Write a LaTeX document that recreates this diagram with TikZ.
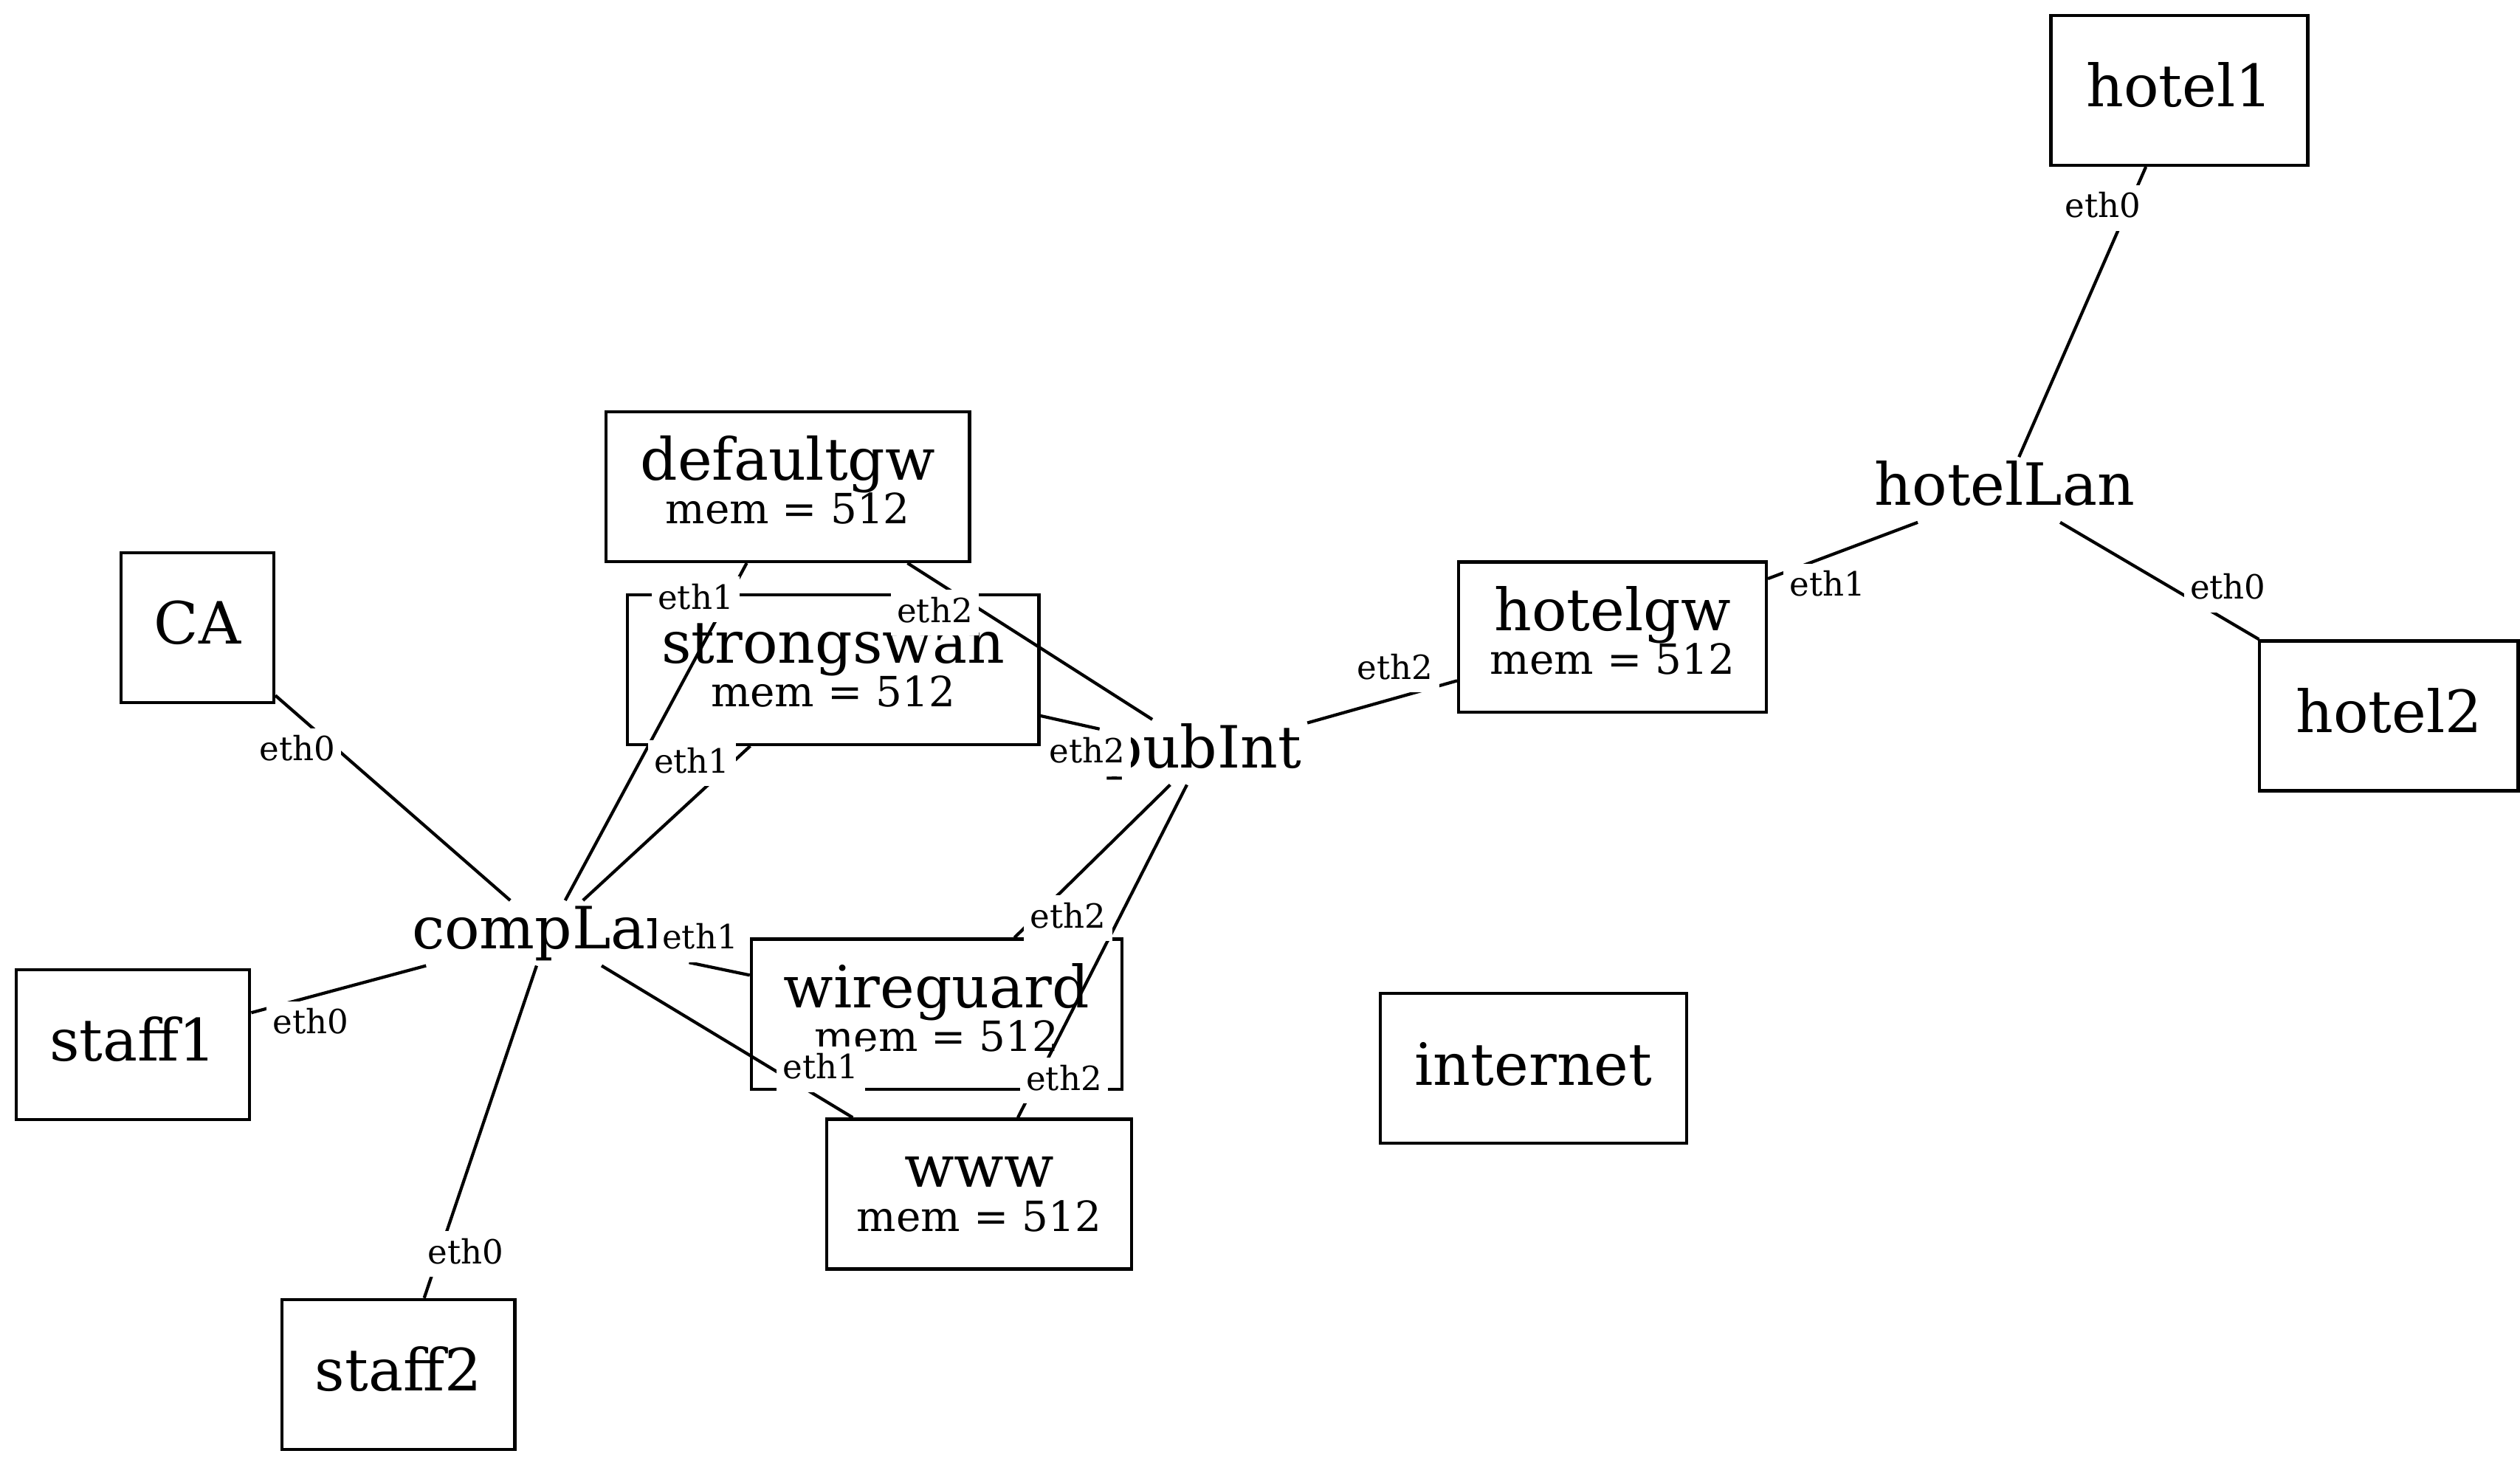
\documentclass[tikz,border=0pt]{standalone}
\usepackage{fontspec}
\setmainfont{DejaVu Serif}

\newcommand{\memline}{{\fontsize{10}{10.54}\selectfont mem = 512}}

\tikzset{
    every node/.style={inner sep=0pt},
    host/.style={
        draw, rectangle,
        line width=0.75pt,
        minimum height=36pt,
        text height=11pt, text depth=3pt,
        font={\fontsize{14}{10.54}\selectfont\lineskiplimit=-20pt}
    },
    vm/.style={host, align=center, text height=19.9pt, text depth=2pt},
    lan/.style={
        rectangle, inner xsep=1.2pt,
        minimum height=15.3pt,
        text height=10.9pt, text depth=3.5pt,
        font=\fontsize{14}{16}\selectfont
    },
    eth/.style={
        fill=white, inner xsep=1.5pt, anchor=base,
        text height=7.8pt, text depth=3.2pt,
        font=\fontsize{8}{9.6}\selectfont
    },
    link/.style={line width=0.75pt}
}

\begin{document}
\begin{tikzpicture}[x=0.38803pt, y=-0.38803pt]
\useasboundingbox (0,0) rectangle (1560,905.2);

% hosts
\node[host, minimum width=61.7pt] (hotel1) at (1349.1,55.9) {hotel1};
\node[vm, minimum width=87.3pt] (defaultgw) at (487.7,301.3) {defaultgw\\\memline};
\node[host, minimum width=36.7pt] (CA) at (122.2,388.5) {CA};
\node[vm, minimum width=98.9pt] (strongswan) at (515.7,414.6) {strongswan\\\memline};
\node[vm, minimum width=73.9pt] (hotelgw) at (998.2,394.4) {hotelgw\\\memline};
\node[host, minimum width=62.1pt] (hotel2) at (1478.8,443.2) {hotel2};
\node[host, minimum width=56.1pt] (staff1) at (82.3,646.7) {staff1};
\node[vm, minimum width=89pt] (wireguard) at (579.8,627.9) {wireguard\\\memline};
\node[host, minimum width=73.6pt] (internet) at (949.3,661.4) {internet};
\node[vm, minimum width=73.3pt] (www) at (606.1,739.3) {www\\\memline};
\node[host, minimum width=56pt] (staff2) at (246.6,851) {staff2};

% lans
\node[lan] (compLan) at (339,577.7) {compLan};
\node[lan] (pubInt) at (745,465.7) {pubInt};
\node[lan] (hotelLan) at (1241,303.2) {hotelLan};

% links
\foreach \a/\b in {CA/compLan, staff1/compLan, staff2/compLan,
    defaultgw/compLan, strongswan/compLan, wireguard/compLan, www/compLan,
    defaultgw/pubInt, strongswan/pubInt, wireguard/pubInt, www/pubInt,
    hotelgw/pubInt, hotelgw/hotelLan, hotel1/hotelLan, hotel2/hotelLan}
    \draw[link] (\a) -- (\b);

% interface labels
\foreach \n/\x/\y/\t in {CA-eth0/184/471.1/eth0, staff1-eth0/192.3/640.1/eth0,
    staff2-eth0/288.2/782.3/eth0, defaultgw-eth1/430.7/377.1/eth1,
    strongswan-eth1/428.3/478.6/eth1, wireguard-eth1/433.4/587.4/eth1,
    www-eth1/508.1/668/eth1, defaultgw-eth2/578.7/385.3/eth2,
    strongswan-eth2/672.9/472.4/eth2, wireguard-eth2/661.2/574.4/eth2,
    www-eth2/658.7/675/eth2, hotelgw-eth2/863.7/420.4/eth2,
    hotelgw-eth1/1131.3/369.1/eth1, hotel1-eth0/1301.7/134.7/eth0,
    hotel2-eth0/1379.2/370.9/eth0}
    \node[eth] (\n) at (\x,\y) {\t};
\end{tikzpicture}
\end{document}
